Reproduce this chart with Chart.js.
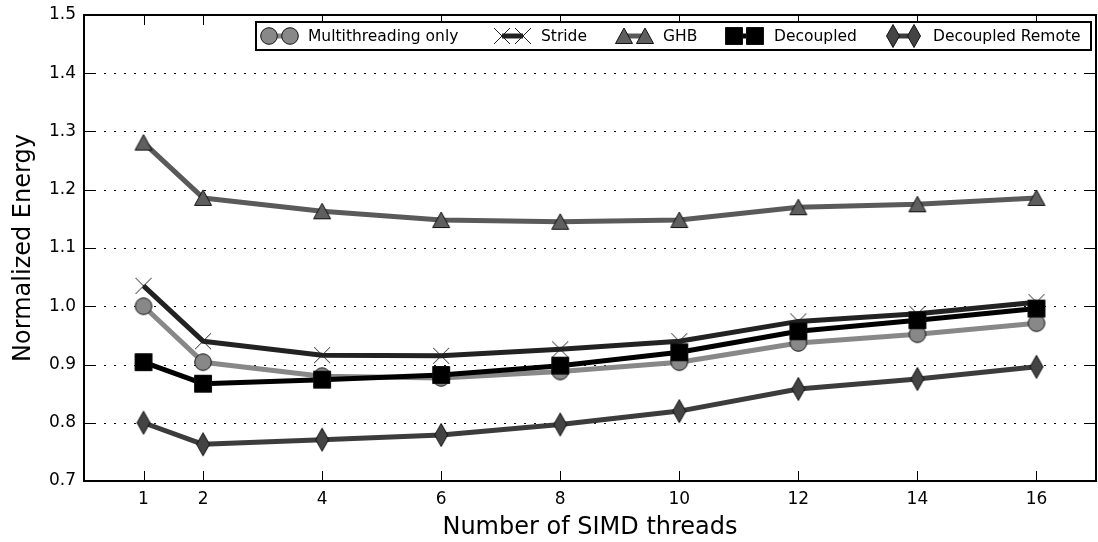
<!DOCTYPE html>
<html>
<head>
<meta charset="utf-8">
<script src="https://cdn.jsdelivr.net/npm/chart.js@4/dist/chart.umd.min.js"></script>
<style>
  html, body { margin: 0; padding: 0; background: #fff; }
  #wrap { width: 1098px; height: 542px; }
</style>
</head>
<body>
<div id="wrap"><canvas id="chart" width="1098" height="542"></canvas></div>
<script>
// data
const threads = [1, 2, 4, 6, 8, 10, 12, 14, 16];
const xTicks = [1, 2, 4, 6, 8, 10, 12, 14, 16];
const yTicks = [0.7, 0.8, 0.9, 1.0, 1.1, 1.2, 1.3, 1.4, 1.5];

const multithreading = [1.000, 0.904, 0.880, 0.877, 0.888, 0.904, 0.937, 0.952, 0.971];
const stride = [1.035, 0.940, 0.916, 0.915, 0.926, 0.940, 0.974, 0.987, 1.007];
const ghb = [1.281, 1.186, 1.163, 1.148, 1.145, 1.148, 1.170, 1.175, 1.186];
const decoupled = [0.904, 0.867, 0.874, 0.882, 0.898, 0.921, 0.957, 0.976, 0.996];
const decoupledRemote = [0.800, 0.763, 0.771, 0.779, 0.797, 0.820, 0.858, 0.875, 0.896];

const FONT = '"DejaVu Sans", sans-serif';

// legend layout (left marker x, text x)
const legendMarkerX = [269, 502, 624, 734, 893];
const legendTextX = [308, 541, 663, 774, 933];

// marker pictures so points and legend look the same
function makeMarker(kind, fill) {
    const c = document.createElement('canvas');
    c.width = 26; c.height = 26;
    const g = c.getContext('2d');
    g.fillStyle = fill;
    g.strokeStyle = '#111';
    g.lineWidth = 1;
    g.beginPath();
    if (kind === 'circle') {
        g.arc(13, 13, 8.3, 0, Math.PI * 2);
    } else if (kind === 'square') {
        g.rect(4.5, 4.5, 17, 17);
    } else if (kind === 'triangle') {
        g.moveTo(13, 5); g.lineTo(21.5, 20.5); g.lineTo(4.5, 20.5); g.closePath();
    } else if (kind === 'diamond') {
        g.moveTo(13, 1.5); g.lineTo(19.5, 13); g.lineTo(13, 24.5); g.lineTo(6.5, 13); g.closePath();
    }
    if (kind === 'cross') {
        g.strokeStyle = '#222';
        g.moveTo(5, 5); g.lineTo(21, 21);
        g.moveTo(21, 5); g.lineTo(5, 21);
        g.stroke();
    } else {
        g.fill();
        g.stroke();
    }
    return c;
}

const series = [
    { label: 'Multithreading only', data: multithreading, color: '#888888', marker: makeMarker('circle', '#888888'), order: 5 },
    { label: 'Stride', data: stride, color: '#222222', marker: makeMarker('cross', '#222222'), order: 4 },
    { label: 'GHB', data: ghb, color: '#5a5a5a', marker: makeMarker('triangle', '#5f5f5f'), order: 3 },
    { label: 'Decoupled', data: decoupled, color: '#000000', marker: makeMarker('square', '#000000'), order: 2 },
    { label: 'Decoupled Remote', data: decoupledRemote, color: '#3c3c3c', marker: makeMarker('diamond', '#444444'), order: 1 }
];

// frame, dotted grid, inward ticks, titles and the boxed legend
const decorPlugin = {
    id: 'decor',
    beforeDatasetsDraw(chart) {
        const ctx = chart.ctx;
        const a = chart.chartArea;
        const y = chart.scales.y;
        ctx.save();
        ctx.strokeStyle = '#000';
        ctx.lineWidth = 1;
        ctx.setLineDash([2, 8]);
        yTicks.forEach(v => {
            if (v <= 0.7 || v >= 1.5) return;
            const py = Math.round(y.getPixelForValue(v)) + 0.5;
            ctx.beginPath();
            ctx.moveTo(a.left, py);
            ctx.lineTo(a.right, py);
            ctx.stroke();
        });
        ctx.restore();
    },
    afterDatasetsDraw(chart) {
        const ctx = chart.ctx;
        const a = chart.chartArea;
        const x = chart.scales.x;
        const y = chart.scales.y;
        const tl = 10;
        ctx.save();
        ctx.strokeStyle = '#000';
        ctx.lineWidth = 1;
        xTicks.forEach(v => {
            const px = Math.round(x.getPixelForValue(v)) + 0.5;
            ctx.beginPath();
            ctx.moveTo(px, a.bottom); ctx.lineTo(px, a.bottom - tl);
            ctx.moveTo(px, a.top); ctx.lineTo(px, a.top + tl);
            ctx.stroke();
        });
        yTicks.forEach(v => {
            const py = Math.round(y.getPixelForValue(v)) + 0.5;
            ctx.beginPath();
            ctx.moveTo(a.left, py); ctx.lineTo(a.left + tl, py);
            ctx.moveTo(a.right, py); ctx.lineTo(a.right - tl, py);
            ctx.stroke();
        });
        ctx.lineWidth = 2;
        ctx.strokeRect(a.left, a.top, a.right - a.left, a.bottom - a.top);

        // legend
        const boxL = 256, boxR = 1091, boxT = 22, boxB = 50;
        const ly = (boxT + boxB) / 2;
        ctx.fillStyle = '#fff';
        ctx.fillRect(boxL, boxT, boxR - boxL, boxB - boxT);
        ctx.lineWidth = 2;
        ctx.strokeRect(boxL, boxT, boxR - boxL, boxB - boxT);
        ctx.font = '15.5px ' + FONT;
        ctx.textBaseline = 'middle';
        ctx.textAlign = 'left';
        series.forEach((s, i) => {
            const mx = legendMarkerX[i];
            ctx.strokeStyle = s.color;
            ctx.lineWidth = 5;
            ctx.beginPath();
            ctx.moveTo(mx, ly); ctx.lineTo(mx + 21, ly);
            ctx.stroke();
            ctx.drawImage(s.marker, mx - 13, ly - 13);
            ctx.drawImage(s.marker, mx + 21 - 13, ly - 13);
            ctx.fillStyle = '#000';
            ctx.fillText(s.label, legendTextX[i], ly + 1);
        });

        // axis titles
        ctx.fillStyle = '#000';
        ctx.font = '24px ' + FONT;
        ctx.textAlign = 'center';
        ctx.fillText('Number of SIMD threads', (a.left + a.right) / 2, 528);
        ctx.translate(24, (a.top + a.bottom) / 2);
        ctx.rotate(-Math.PI / 2);
        ctx.fillText('Normalized Energy', 0, 0);
        ctx.restore();
    }
};

new Chart(document.getElementById('chart'), {
    type: 'line',
    data: {
        datasets: series.map(s => ({
            label: s.label,
            data: threads.map((t, i) => ({ x: t, y: s.data[i] })),
            borderColor: s.color,
            backgroundColor: s.color,
            borderWidth: 5,
            borderJoinStyle: 'round',
            pointStyle: s.marker,
            pointRadius: 9,
            pointHoverRadius: 9,
            tension: 0,
            fill: false,
            order: s.order
        }))
    },
    options: {
        responsive: false,
        animation: false,
        events: [],
        layout: { autoPadding: false, padding: { top: 15, right: 2, left: 0, bottom: 0 } },
        plugins: { legend: { display: false }, tooltip: { enabled: false } },
        scales: {
            x: {
                type: 'linear',
                min: 0,
                max: 17,
                afterBuildTicks: scale => { scale.ticks = xTicks.map(v => ({ value: v })); },
                afterFit: scale => {
                    scale.height = 542 - 481;
                    scale.paddingLeft = 0;
                    scale.paddingRight = 0;
                },
                grid: { display: false, drawTicks: false },
                border: { display: false },
                ticks: { color: '#000', font: { family: FONT, size: 17 }, padding: 8, maxRotation: 0, autoSkip: false }
            },
            y: {
                min: 0.7,
                max: 1.5,
                afterBuildTicks: scale => { scale.ticks = yTicks.map(v => ({ value: v })); },
                afterFit: scale => {
                    scale.width = 84;
                    scale.paddingTop = 0;
                    scale.paddingBottom = 0;
                },
                grid: { display: false, drawTicks: false },
                border: { display: false },
                ticks: {
                    color: '#000',
                    font: { family: FONT, size: 17 },
                    padding: 8,
                    callback: v => v.toFixed(1)
                }
            }
        }
    },
    plugins: [decorPlugin]
});
</script>
</body>
</html>
